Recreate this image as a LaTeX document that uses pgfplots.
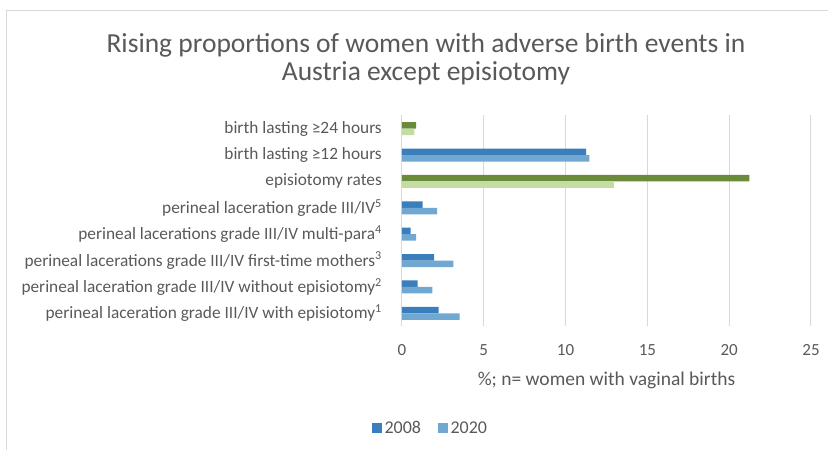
\documentclass[border=0pt]{standalone}
\usepackage{pgfplots}
\pgfplotsset{compat=1.18}
\usepackage{fontspec}
\setmainfont{Carlito}
\definecolor{txt}{HTML}{595959}
\definecolor{b08}{HTML}{3A7EBB}
\definecolor{b20}{HTML}{70A8D2}
\definecolor{g08}{HTML}{6A8B3A}
\definecolor{g20}{HTML}{C4DDA2}
\definecolor{gridc}{HTML}{D9D9D9}
\begin{document}
\begin{tikzpicture}[x=1pt,y=1pt]
\useasboundingbox (0,0) rectangle (828,450);
\draw[gridc, line width=1pt] (6,0) -- (6,439) -- (828,439);
\node[txt, font=\fontsize{27.5}{28}\selectfont, align=center] at (426,391) {Rising proportions of women with adverse birth events in\\Austria except episiotomy};
\begin{axis}[
  at={(402pt,123.5pt)}, anchor=south west,
  scale only axis, width=409pt, height=211pt,
  xbar, bar width=6.5pt,
  xmin=0, xmax=25, ymin=-0.5, ymax=7.5,
  xtick={0,5,10,15,20,25},
  ytick={0,1,2,3,4,5,6,7},
  yticklabels={
    perineal laceration grade III/IV with episiotomy\textsuperscript{1},
    perineal laceration grade III/IV without episiotomy\textsuperscript{2},
    perineal lacerations grade III/IV first-time mothers\textsuperscript{3},
    perineal lacerations grade III/IV multi-para\textsuperscript{4},
    perineal laceration grade III/IV\textsuperscript{5},
    episiotomy rates,
    birth lasting ≥12 hours,
    birth lasting ≥24 hours},
  xmajorgrids, grid style={gridc, line width=1pt},
  axis line style={draw=none}, major tick length=0pt,
  /pgf/number format/assume math mode=true,
  tick label style={txt, font=\fontsize{17}{19}\selectfont},
  yticklabel style={font=\fontsize{17.3}{19}\selectfont},
  xticklabel style={anchor=center, yshift=-23.5pt},
  yticklabel style={anchor=east, inner sep=0pt, xshift=-20pt},
  xlabel={\%; n= women with vaginal births},
  xlabel style={txt, font=\fontsize{19.5}{21}\selectfont, at={(axis description cs:0.5,0)}, anchor=center, yshift=-53.5pt},
  legend style={at={(axis description cs:0.0697,-0.481)}, anchor=center, draw=none, fill=none,
    legend columns=2, font=\fontsize{18}{20}\selectfont, text=txt,
    /tikz/every even column/.append style={column sep=15pt},
    /tikz/every odd column/.append style={column sep=0.5pt}},
  legend image code/.code={\fill[#1] (0pt,-5pt) rectangle (10pt,5pt);},
]
\addplot[fill=b08, draw=none, bar shift=3.25pt] coordinates {(2.24,0) (0.96,1) (1.96,2) (0.53,3) (1.26,4) (11.26,6)};
\addplot[fill=b20, draw=none, bar shift=-3.25pt] coordinates {(3.52,0) (1.86,1) (3.14,2) (0.86,3) (2.14,4) (11.45,6)};
\addplot[fill=g08, draw=none, bar shift=3.25pt, forget plot] coordinates {(21.24,5) (0.86,7)};
\addplot[fill=g20, draw=none, bar shift=-3.25pt, forget plot] coordinates {(12.95,5) (0.75,7)};
\legend{2008,2020}
\end{axis}
\end{tikzpicture}
\end{document}
